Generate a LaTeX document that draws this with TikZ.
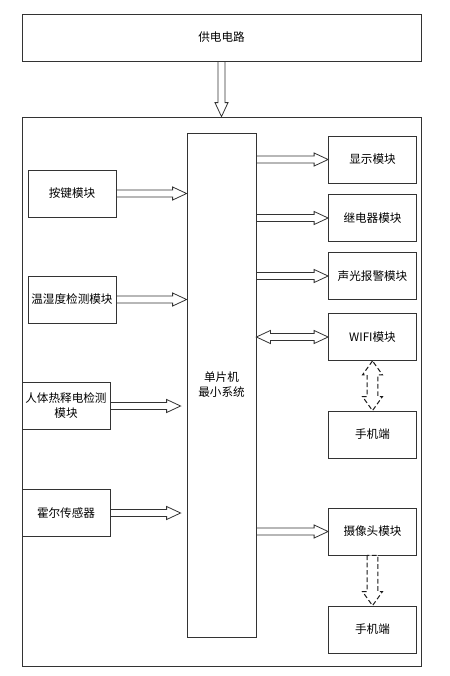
\documentclass[tikz,border=0pt]{standalone}
\usepackage{fontspec}
\newfontfamily\cjk{Noto Sans CJK SC}
\usetikzlibrary{calc}

\tikzset{
    arrshaft/.store in=\arrshaft, arrshaft=2.6pt,
    arrhead/.store in=\arrhead, arrhead=4.9pt,
    box/.style={draw=black!80, line width=0.6pt, fill=white, inner sep=1pt,
        font=\cjk\fontsize{8.7pt}{11.25pt}\selectfont, align=center},
    modbox/.style={box, minimum width=66pt, minimum height=35.25pt},
    hollow/.style={draw=black!80, line width=0.6pt, fill=white},
    rarrow/.style={hollow, to path={let \p1=(\tikztostart), \p2=(\tikztotarget) in
        (\x1,\y1+\arrshaft) -- (\x2-10.5pt,\y1+\arrshaft) -- (\x2-10.5pt,\y1+\arrhead) -- (\x2,\y1)
        -- (\x2-10.5pt,\y1-\arrhead) -- (\x2-10.5pt,\y1-\arrshaft) -- (\x1,\y1-\arrshaft) -- cycle}},
    lrarrow/.style={hollow, to path={let \p1=(\tikztostart), \p2=(\tikztotarget) in
        (\x1,\y1) -- (\x1+10.5pt,\y1+\arrhead) -- (\x1+10.5pt,\y1+\arrshaft) -- (\x2-10.5pt,\y1+\arrshaft)
        -- (\x2-10.5pt,\y1+\arrhead) -- (\x2,\y1) -- (\x2-10.5pt,\y1-\arrhead) -- (\x2-10.5pt,\y1-\arrshaft)
        -- (\x1+10.5pt,\y1-\arrshaft) -- (\x1+10.5pt,\y1-\arrhead) -- cycle}},
    darrow/.style={hollow, to path={let \p1=(\tikztostart), \p2=(\tikztotarget) in
        (\x1-\arrshaft,\y1) -- (\x1-\arrshaft,\y2+10.5pt) -- (\x1-\arrhead,\y2+10.5pt) -- (\x1,\y2)
        -- (\x1+\arrhead,\y2+10.5pt) -- (\x1+\arrshaft,\y2+10.5pt) -- (\x1+\arrshaft,\y1) -- cycle}},
    udarrow/.style={hollow, to path={let \p1=(\tikztostart), \p2=(\tikztotarget) in
        (\x1,\y1) -- (\x1-\arrhead,\y1-10.5pt) -- (\x1-\arrshaft,\y1-10.5pt) -- (\x1-\arrshaft,\y2+10.5pt)
        -- (\x1-\arrhead,\y2+10.5pt) -- (\x1,\y2) -- (\x1+\arrhead,\y2+10.5pt) -- (\x1+\arrshaft,\y2+10.5pt)
        -- (\x1+\arrshaft,\y1-10.5pt) -- (\x1+\arrhead,\y1-10.5pt) -- cycle}},
    wireless/.style={draw=black!90, line width=0.75pt, dash pattern=on 3.5pt off 2pt,
        arrshaft=4pt, arrhead=7.5pt}
}

\begin{document}
\begin{tikzpicture}[x=0.75pt, y=-0.75pt]
    \useasboundingbox (0,0) rectangle (450,676);

    % power supply
    \node[box, minimum width=299.25pt, minimum height=35.25pt] (power) at (221.5,37.5) {供电电路};

    % board and controller
    \node[box, minimum width=299.25pt, minimum height=411.75pt] (board) at (221.5,391.5) {};
    \draw[darrow] (power.south) to (board.north);
    \node[box, minimum width=51.75pt, minimum height=378pt] (mcu) at (221.5,385) {单片机\\最小系统};

    % inputs
    \node[modbox] (key) at (72,193.5) {按键模块};
    \node[modbox] (th) at (72,299.5) {温湿度检测模块};
    \node[modbox] (pir) at (66,406) {人体热释电检测\\模块};
    \node[modbox] (hall) at (66,513) {霍尔传感器};
    \draw[rarrow] (key.east) to (key.east -| mcu.west);
    \draw[rarrow] (th.east) to (th.east -| mcu.west);
    \draw[rarrow] (pir.east) to ([xshift=-4.5pt]pir.east -| mcu.west);
    \draw[rarrow] (hall.east) to ([xshift=-4.5pt]hall.east -| mcu.west);

    % outputs
    \node[modbox] (disp) at (372.5,159.5) {显示模块};
    \node[modbox] (relay) at (372.5,218) {继电器模块};
    \node[modbox] (alarm) at (372.5,276) {声光报警模块};
    \node[modbox] (wifi) at (372.5,337) {WIFI模块};
    \node[modbox] (phoneA) at (372.5,434.5) {手机端};
    \node[modbox] (cam) at (372.5,531.5) {摄像头模块};
    \node[modbox] (phoneB) at (372.5,629.5) {手机端};
    \draw[rarrow] (mcu.east |- disp) to (disp.west);
    \draw[rarrow] (mcu.east |- relay) to (relay.west);
    \draw[rarrow] (mcu.east |- alarm) to (alarm.west);
    \draw[lrarrow] (mcu.east |- wifi) to (wifi.west);
    \draw[rarrow] (mcu.east |- cam) to (cam.west);

    % to the phone
    \draw[udarrow, wireless] (wifi.south) to (phoneA.north);
    \draw[darrow, wireless] (cam.south) to (phoneB.north);

\end{tikzpicture}
\end{document}
